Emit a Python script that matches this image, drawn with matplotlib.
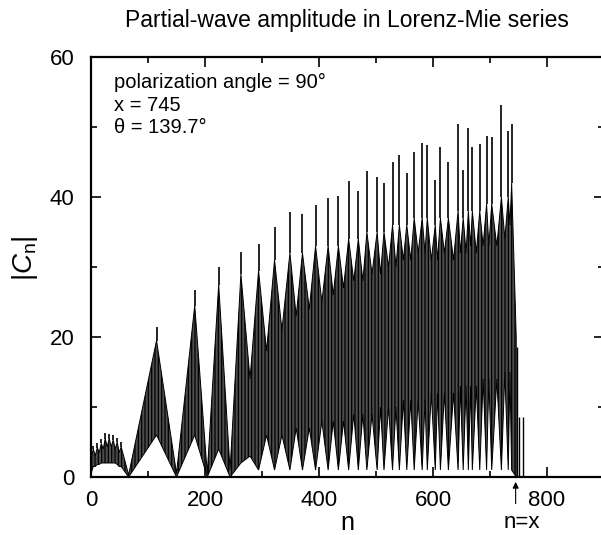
import numpy as np
import matplotlib
matplotlib.use("Agg")
import matplotlib.pyplot as plt

plt.rcParams['font.family'] = ['Liberation Sans', 'DejaVu Sans']
plt.rcParams['mathtext.fontset'] = 'custom'
plt.rcParams['mathtext.rm'] = 'Liberation Sans'
plt.rcParams['mathtext.it'] = 'Liberation Sans:italic'
plt.rcParams['hatch.linewidth'] = 0.9

# bursts of |C_n|: centre, top of dark lobe, tip of spike, bottom of dark region
burst_n = [4, 11, 18, 25, 32, 39, 46, 53, 115, 182, 224, 263, 294, 322, 349, 371,
           394, 416, 434, 452, 469, 484, 502, 514, 529, 541, 554, 567, 581, 590,
           604, 613, 627, 644, 653, 662, 669, 682, 694, 703, 720, 732, 738]
burst_top = [4.0, 4.2, 4.8, 5.5, 5.5, 5.3, 5.0, 4.3, 19.5, 24.5, 27.5, 29.0, 29.5, 31,
             32, 32, 33, 33, 33, 34, 34, 35, 35, 35, 36, 36, 36, 37, 37, 37,
             36, 37, 37, 38, 37, 38, 38, 38, 39, 39, 40, 40, 42]
spike_v = [4.5, 4.8, 5.5, 6.3, 6.2, 6.0, 5.6, 5.0, 21.5, 26.7, 30.0, 32.2, 33.3, 35.7,
           37.8, 37.6, 38.9, 39.9, 40.2, 42.3, 40.9, 43.7, 42.9, 42.0, 45.0, 46.0, 43.4,
           46.4, 47.7, 47.4, 42.5, 47.1, 45.0, 50.5, 43.8, 49.8, 47.2, 47.6, 48.7, 48.6,
           53.1, 49.5, 50.5]
burst_floor = [1.5, 1.8, 2.0, 2.0, 2.0, 2.0, 1.8, 1.5, 6.0, 6.0, 4.0, 2.0, 1, 1,
               1, 1, 1, 1, 1, 1, 1, 1, 1, 1, 1, 1, 1, 1, 1, 1,
               1, 1, 1, 1, 1, 1, 1, 1, 1, 1, 1, 1, 1]

# between bursts: position, top of dark region, height of the white gap below
valley_n = [0, 7.5, 14.5, 21.5, 28.5, 35.5, 42.5, 49.5, 66, 150, 204, 244, 279, 308,
            335, 360, 383, 405, 425, 443, 461, 477, 493, 508, 522, 535, 548, 561,
            574, 586, 597, 608, 620, 636, 648, 658, 666, 676, 688, 698, 712, 726,
            735, 746]
valley_top = [2.5, 3.0, 3.5, 4.0, 4.3, 4.3, 4.0, 3.5, 0.3, 0.5, 0.5, 1.0, 14, 18,
              21, 23, 24, 25, 26, 27, 28, 28, 29, 29, 30, 30, 31, 31,
              32, 32, 31, 31, 32, 31, 32, 32, 33, 32, 33, 33, 33, 34,
              36, 20]
valley_gap = [0.5, 1.5, 1.8, 2.0, 2.0, 2.0, 2.0, 1.5, 0, 0, 0, 0, 3, 6,
              6, 7, 7, 8, 8, 8, 9, 9, 9, 10, 10, 10, 11, 11,
              11, 11, 12, 12, 12, 12, 13, 13, 13, 13, 14, 14, 14, 15,
              15, 0]

# last few terms past n = x
tail_n = [747, 750, 758]
tail_v = [18.6, 8.6, 8.6]

# interleave valleys and bursts into the outline of the dark region
up_n, up_v, lo_v = [], [], []
for i in range(len(burst_n)):
    up_n += [valley_n[i], burst_n[i]]
    up_v += [valley_top[i], burst_top[i]]
    lo_v += [valley_gap[i], burst_floor[i]]
up_n.append(valley_n[-1])
up_v.append(valley_top[-1])
lo_v.append(valley_gap[-1])

fig = plt.figure(figsize=(6.01, 5.35), dpi=100)
ax = fig.add_axes([0.1514, 0.1084, 0.8536, 0.785])

ax.fill(up_n + up_n[::-1], up_v + lo_v[::-1], facecolor='0.3',
        edgecolor='black', linewidth=0.7, hatch='|||||')
ax.vlines(burst_n, burst_top, spike_v, color='black', linewidth=1.2)
ax.vlines(tail_n, 0, tail_v, color='black', linewidth=1.0)

ax.set_xlim(0, 900)
ax.set_ylim(0, 60)
ax.set_xticks([0, 200, 400, 600, 800])
ax.set_xticks(np.arange(100, 900, 200), minor=True)
ax.set_yticks([0, 20, 40, 60])
ax.set_yticks([10, 30, 50], minor=True)
ax.tick_params(which='both', direction='in', top=True, right=True, width=1.2,
               labelsize=16)
ax.tick_params(axis='x', pad=9)
ax.tick_params(axis='y', pad=12)
ax.tick_params(which='major', length=7)
ax.tick_params(which='minor', length=4)
for s in ax.spines.values():
    s.set_linewidth(1.6)

ax.set_xlabel('n', fontsize=18, labelpad=0)
ax.set_ylabel(r'$|C_\mathrm{n}|$', fontsize=20)
ax.yaxis.set_label_coords(-0.10, 0.52)

ax.text(40, 56.4, 'polarization angle = 90°', fontsize=14.5, va='center')
ax.text(40, 53.1, 'x = 745', fontsize=14.5, va='center')
ax.text(40, 49.9, 'θ = 139.7°', fontsize=14.5, va='center')

ax.annotate('', xy=(745, -0.3), xytext=(745, -4.2), annotation_clip=False,
            arrowprops=dict(arrowstyle='-|>', color='black', lw=0.8,
                            mutation_scale=9))
fig.text(522 / 601, 1 - 523 / 535, 'n=x', fontsize=16, ha='center', va='center')

fig.text(0.578, 1 - 20 / 535, 'Partial-wave amplitude in Lorenz-Mie series',
         fontsize=16.5, ha='center', va='center')

fig.savefig('out.png', dpi=100)
